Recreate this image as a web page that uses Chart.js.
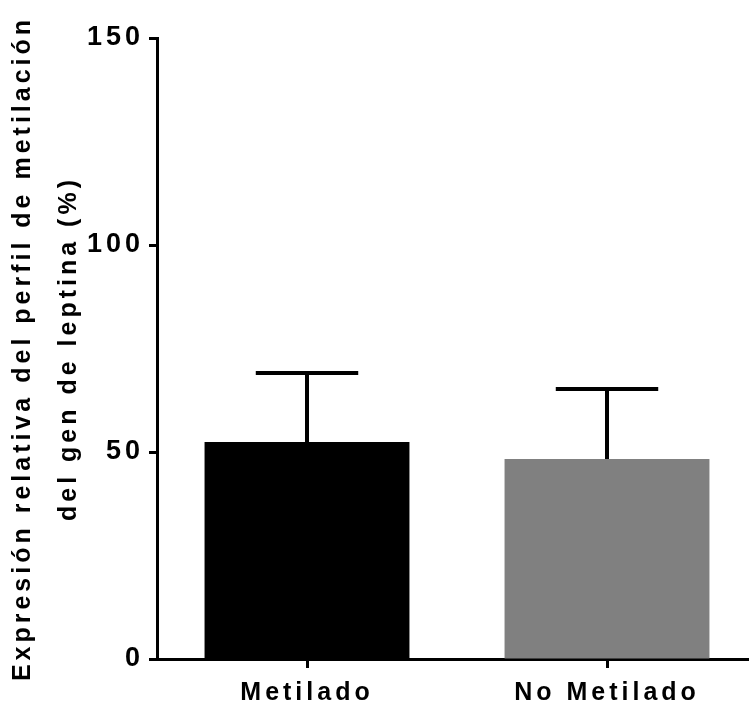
<!DOCTYPE html>
<html>
<head>
<meta charset="utf-8">
<script src="https://cdn.jsdelivr.net/npm/chart.js@4/dist/chart.umd.min.js"></script>
<style>
    html, body { margin: 0; padding: 0; background: #fff; overflow: hidden; }
    #wrap { width: 749px; height: 708px; overflow: hidden; }
</style>
</head>
<body>
<div id="wrap">
    <canvas id="chart" width="757" height="708"></canvas>
</div>
<script>
const categories = ['Metilado', 'No Metilado'];
const means = [52.4, 48.3];
const errors = [16.7, 16.9];
const barColors = ['#000000', '#808080'];
const yTicks = [0, 50, 100, 150];
const yTitle = ['Expresión relativa del perfil de metilación', 'del gen de leptina (%)'];

// espaciado entre letras como en el original
const spacing = {
    id: 'spacing',
    beforeLayout(chart) { chart.ctx.letterSpacing = '4px'; },
    beforeDraw(chart) { chart.ctx.letterSpacing = '4px'; }
};

// barras de error (solo hacia arriba)
const errorBars = {
    id: 'errorBars',
    afterDatasetsDraw(chart) {
        const ctx = chart.ctx;
        const y = chart.scales.y;
        const meta = chart.getDatasetMeta(0);
        ctx.save();
        ctx.strokeStyle = '#000';
        ctx.lineWidth = 4;
        meta.data.forEach((bar, i) => {
            const top = y.getPixelForValue(means[i] + errors[i]);
            const base = y.getPixelForValue(means[i]);
            const half = bar.width / 4;
            ctx.beginPath();
            ctx.moveTo(bar.x, base);
            ctx.lineTo(bar.x, top);
            ctx.moveTo(bar.x - half, top);
            ctx.lineTo(bar.x + half, top);
            ctx.stroke();
        });
        ctx.restore();
    }
};

new Chart(document.getElementById('chart'), {
    type: 'bar',
    data: {
        labels: categories,
        datasets: [{
            data: means,
            backgroundColor: barColors,
            borderWidth: 0,
            barPercentage: 0.683,
            categoryPercentage: 1
        }]
    },
    options: {
        responsive: false,
        animation: false,
        layout: { padding: { top: 38, left: 0, right: 0, bottom: 0 } },
        plugins: {
            legend: { display: false },
            tooltip: { enabled: false }
        },
        scales: {
            x: {
                offset: true,
                grid: {
                    offset: false,
                    drawOnChartArea: false,
                    drawTicks: true,
                    tickLength: 9,
                    tickWidth: 3,
                    color: '#000'
                },
                border: { color: '#000', width: 3 },
                ticks: {
                    color: '#000',
                    padding: 10,
                    font: { family: 'Liberation Sans', size: 25, weight: 'bold' }
                },
                afterFit(scale) { scale.height = 49; }
            },
            y: {
                min: yTicks[0],
                max: yTicks[yTicks.length - 1],
                afterBuildTicks(scale) {
                    scale.ticks = yTicks.map(v => ({ value: v }));
                },
                grid: {
                    drawOnChartArea: false,
                    drawTicks: true,
                    tickLength: 8,
                    tickWidth: 3,
                    color: '#000'
                },
                border: { color: '#000', width: 3 },
                ticks: {
                    color: '#000',
                    padding: 5,
                    font: { family: 'Liberation Sans', size: 27, weight: 'bold' }
                },
                title: {
                    display: true,
                    text: yTitle,
                    color: '#000',
                    padding: { top: 0, bottom: 0 },
                    font: { family: 'Liberation Sans', size: 25, weight: 'bold', lineHeight: 1.84 }
                },
                afterFit(scale) { scale.width = 157; }
            }
        }
    },
    plugins: [spacing, errorBars]
});
</script>
</body>
</html>
